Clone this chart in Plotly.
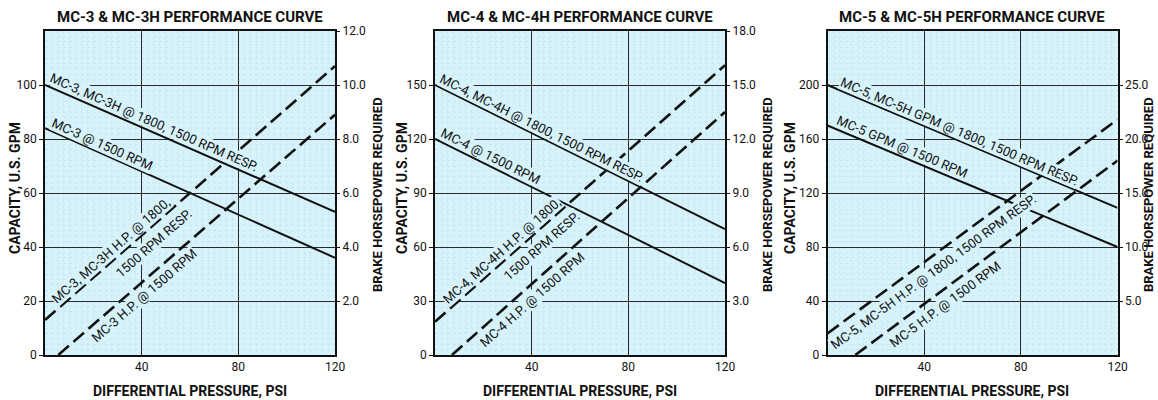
import math
import plotly.graph_objects as go

# ---------------- data ----------------
titles = ["MC-3 & MC-3H PERFORMANCE CURVE", "MC-4 & MC-4H PERFORMANCE CURVE", "MC-5 & MC-5H PERFORMANCE CURVE"]
x_line = [0, 120]

# panel 1 (MC-3)
p1_gpm_hi = [100, 53]
p1_gpm_lo = [84, 36]
p1_hp_hi_x = [0, 120]
p1_hp_hi = [1.3, 10.7]
p1_hp_lo_x = [5.5, 120]
p1_hp_lo = [0, 8.9]

# panel 2 (MC-4)
p2_gpm_hi = [150, 70]
p2_gpm_lo = [120, 40]
p2_hp_hi_x = [0, 120]
p2_hp_hi = [1.85, 16.1]
p2_hp_lo_x = [7, 120]
p2_hp_lo = [0, 13.5]

# panel 3 (MC-5)
p3_gpm_hi = [200, 109]
p3_gpm_lo = [170, 80]
p3_hp_hi_x = [0, 120]
p3_hp_hi = [2.0, 21.8]
p3_hp_lo_x = [11.5, 120]
p3_hp_lo = [0, 18.0]

x_ticks = [40, 80, 120]
left_ranges = [120, 180, 240]
left_ticks = [[0, 20, 40, 60, 80, 100], [0, 30, 60, 90, 120, 150], [0, 40, 80, 120, 160, 200]]
right_ranges = [12, 18, 30]
right_ticks = [[2, 4, 6, 8, 10, 12], [3, 6, 9, 12, 15, 18], [5, 10, 15, 20, 25]]

labels = [
    ["MC-3, MC-3H @ 1800, 1500 RPM RESP.", "MC-3 @ 1500 RPM",
     "MC-3, MC-3H H.P. @ 1800,", "1500 RPM RESP.", "MC-3 H.P. @ 1500 RPM"],
    ["MC-4, MC-4H @ 1800, 1500 RPM RESP.", "MC-4 @ 1500 RPM",
     "MC-4, MC-4H H.P. @ 1800,", "1500 RPM RESP.", "MC-4 H.P. @ 1500 RPM"],
    ["MC-5, MC-5H GPM @ 1800, 1500 RPM RESP.", "MC-5 GPM @ 1500 RPM",
     "MC-5, MC-5H H.P. @ 1800, 1500 RPM RESP.", "MC-5 H.P. @ 1500 RPM"],
]

# ---------------- layout geometry ----------------
W, H = 1158, 400
plot_left_px = [45, 435, 827.5]
plot_w_px = 290
plot_top_px, plot_bot_px = 31, 355
plot_h_px = plot_bot_px - plot_top_px

BG = "#d6f2fa"
INK = "#111111"
FONT = "Roboto, Liberation Sans, Arial, sans-serif"
TICK = dict(family=FONT, size=12, color=INK)

fig = go.Figure()

panels = [
    (p1_gpm_hi, p1_gpm_lo, p1_hp_hi_x, p1_hp_hi, p1_hp_lo_x, p1_hp_lo),
    (p2_gpm_hi, p2_gpm_lo, p2_hp_hi_x, p2_hp_hi, p2_hp_lo_x, p2_hp_lo),
    (p3_gpm_hi, p3_gpm_lo, p3_hp_hi_x, p3_hp_hi, p3_hp_lo_x, p3_hp_lo),
]

# label placement: (line key, x position along line, perpendicular offset px)
label_pos = [
    [("gh", 43.7, 9), ("gl", 22.3, 9), ("hh", 29.7, 8.5), ("hh", 41.1, -14), ("hl", 38, -11.5)],
    [("gh", 42.8, 9), ("gl", 21.5, 9), ("hh", 30.2, 8.5), ("hh", 40.5, -14.5), ("hl", 37, -12)],
    [("gh", 53.2, 8.5), ("gl", 29.2, 9), ("hh", 40.7, -13.5), ("hl", 45.5, -12.5)],
]

minor_y = [2, 3, 4]
annotations = []


def paper_text(text, xpx, ypx, size, angle=0, xanchor="center"):
    return dict(text=text, xref="paper", yref="paper", x=xpx / W, y=1 - ypx / H,
                xanchor=xanchor, yanchor="middle", textangle=angle, showarrow=False,
                font=dict(family=FONT, size=size, color=INK))


for i, (gh, gl, hhx, hh, hlx, hl) in enumerate(panels):
    xa = "x" if i == 0 else f"x{i+1}"
    yl = "y" if i == 0 else f"y{i+1}"
    yr = f"y{i+4}"
    x0 = plot_left_px[i] / W
    x1 = (plot_left_px[i] + plot_w_px) / W
    y0 = 1 - plot_bot_px / H
    y1 = 1 - plot_top_px / H

    fig.add_trace(go.Scatter(x=x_line, y=gh, mode="lines", line=dict(color=INK, width=2),
                             xaxis=xa, yaxis=yl, showlegend=False, hoverinfo="skip"))
    fig.add_trace(go.Scatter(x=x_line, y=gl, mode="lines", line=dict(color=INK, width=2),
                             xaxis=xa, yaxis=yl, showlegend=False, hoverinfo="skip"))
    fig.add_trace(go.Scatter(x=hhx, y=hh, mode="lines", line=dict(color=INK, width=2.6, dash="14px,6px"),
                             xaxis=xa, yaxis=yr, showlegend=False, hoverinfo="skip"))
    fig.add_trace(go.Scatter(x=hlx, y=hl, mode="lines", line=dict(color=INK, width=2.6, dash="14px,6px"),
                             xaxis=xa, yaxis=yr, showlegend=False, hoverinfo="skip"))

    suffix = "" if i == 0 else str(i + 1)
    fig.layout["xaxis" + suffix] = dict(
        domain=[x0, x1], range=[0, 120], anchor=yl, tickvals=x_ticks,
        showgrid=True, gridcolor="#2a2a2a", gridwidth=1.3,
        showline=True, linecolor=INK, linewidth=1.5, mirror=True,
        ticks="", tickfont=TICK,
        zeroline=False, automargin=False, fixedrange=True,
        minor=dict(dtick=2.5, showgrid=True, gridcolor="#cbe7ef", gridwidth=0.6, griddash="dot"),
    )
    fig.layout["yaxis" + suffix] = dict(
        domain=[y0, y1], range=[0, left_ranges[i]], anchor=xa, tickvals=left_ticks[i],
        showgrid=True, gridcolor="#2a2a2a", gridwidth=1.3,
        showline=True, linecolor=INK, linewidth=1.5, mirror=True,
        ticks="outside", ticklen=4, tickcolor=INK, tickwidth=1,
        tickfont=TICK,
        zeroline=False, automargin=False, fixedrange=True,
        minor=dict(dtick=minor_y[i], showgrid=True, gridcolor="#cbe7ef", gridwidth=0.6, griddash="dot"),
    )
    fig.layout[f"yaxis{i+4}"] = dict(
        range=[0, right_ranges[i]], overlaying=yl, side="right", anchor=xa,
        tickvals=right_ticks[i], ticktext=[f"{v:.1f}" for v in right_ticks[i]],
        showgrid=False, showline=False, ticks="outside", ticklen=4, tickcolor=INK,
        tickfont=TICK,
        zeroline=False, automargin=False, fixedrange=True,
    )

    # plot background rectangle
    fig.add_shape(type="rect", xref="paper", yref="paper", x0=x0, x1=x1, y0=y0, y1=y1,
                  fillcolor=BG, line=dict(width=0), layer="below")

    cx_px = plot_left_px[i] + plot_w_px / 2
    annotations.append(paper_text(f"<b>{titles[i]}</b>", cx_px, 17, 15))
    annotations.append(paper_text("<b>DIFFERENTIAL PRESSURE, PSI</b>", cx_px, 391, 14))
    annotations.append(paper_text("<b>CAPACITY, U.S. GPM</b>", [15, 402, 790][i], 188, 14, -90))
    if i < 2:
        annotations.append(paper_text("<b>BRAKE HORSEPOWER REQUIRED</b>", [377, 767][i], 195, 13, -90))
    else:
        annotations.append(paper_text("<b>BRAKE HORSEPOWER REQUIRED</b>", 1157.5, 195, 13, -90, xanchor="right"))

    # line labels
    ppx = plot_w_px / 120
    lines = {
        "gh": (x_line, gh, yl, plot_h_px / left_ranges[i]),
        "gl": (x_line, gl, yl, plot_h_px / left_ranges[i]),
        "hh": (hhx, hh, yr, plot_h_px / right_ranges[i]),
        "hl": (hlx, hl, yr, plot_h_px / right_ranges[i]),
    }
    for text, (key, xp, d) in zip(labels[i], label_pos[i]):
        lx, ly, yref, ppy = lines[key]
        t = (xp - lx[0]) / (lx[1] - lx[0])
        yp = ly[0] + t * (ly[1] - ly[0])
        a = math.atan2((ly[1] - ly[0]) * ppy, (lx[1] - lx[0]) * ppx)
        annotations.append(dict(
            text=text, x=xp, y=yp, xref=xa, yref=yref, showarrow=False,
            xanchor="center", yanchor="middle",
            textangle=-math.degrees(a), xshift=-math.sin(a) * d, yshift=math.cos(a) * d,
            font=dict(family=FONT, size=13, color=INK), bgcolor=BG, borderpad=0,
        ))

fig.update_layout(
    width=W, height=H, margin=dict(l=0, r=0, t=0, b=0),
    paper_bgcolor="white", plot_bgcolor="rgba(0,0,0,0)",
    template="none", showlegend=False, annotations=annotations,
)

fig.write_html("out.html", config={"displayModeBar": False},
               post_script="document.body.style.margin='0';")
